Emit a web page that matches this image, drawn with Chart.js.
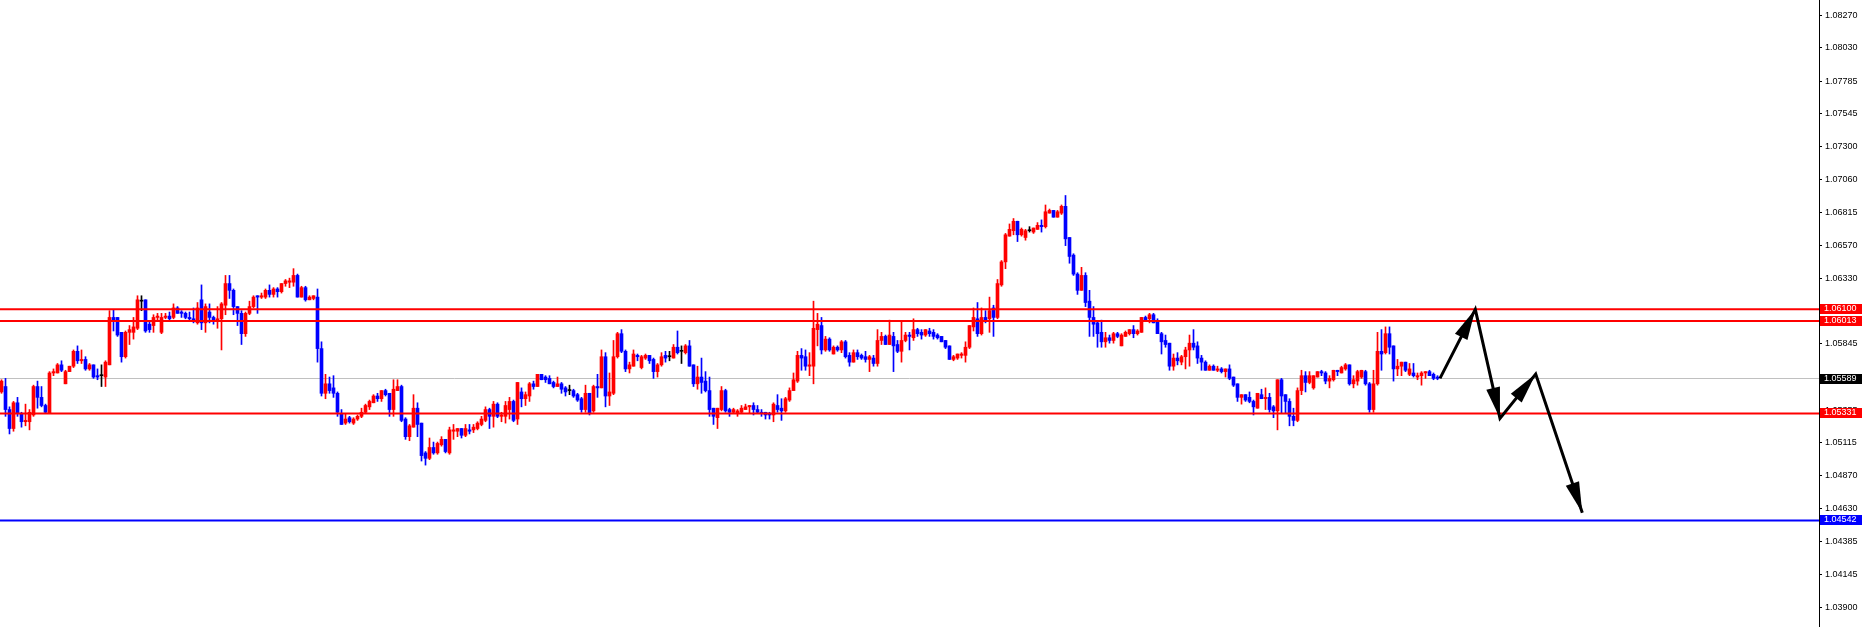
<!DOCTYPE html>
<html>
<head>
<meta charset="utf-8">
<title>EURUSD</title>
<script src="https://cdn.jsdelivr.net/npm/chart.js@4.4.1/dist/chart.umd.min.js"></script>
<style>
  html, body { margin: 0; padding: 0; background: #fff; overflow: hidden; }
</style>
</head>
<body>
<canvas id="chart" width="1864" height="627"></canvas>
<script>
const PRICE_MIN = 1.03755
const PRICE_MAX = 1.08383
const X_MIN = -0.375
const X_MAX = 454.375

const TICK_VALUES = [1.0827, 1.0803, 1.07785, 1.07545, 1.073, 1.0706, 1.06815, 1.0657, 1.0633, 1.06085,
  1.05845, 1.056, 1.05355, 1.05115, 1.0487, 1.0463, 1.04385, 1.04145, 1.039]

// open, high, low, close - one row per bar
const OHLC = [
  [1.0549,1.0558,1.0548,1.0557],[1.0553,1.0559,1.0531,1.0536],[1.0536,1.0538,1.0518,1.0522],[1.0522,1.0542,1.0520,1.0541],[1.0541,1.0545,1.0531,1.0533],
  [1.0533,1.0534,1.0523,1.0527],[1.0527,1.0540,1.0524,1.0528],[1.0527,1.0536,1.0521,1.0534],[1.0532,1.0554,1.0531,1.0553],[1.0553,1.0557,1.0537,1.0545],
  [1.0545,1.0553,1.0538,1.0539],[1.0539,1.0540,1.0533,1.0534],[1.0533,1.0564,1.0533,1.0563],[1.0563,1.0566,1.0561,1.0564],[1.0563,1.0570,1.0563,1.0569],
  [1.0569,1.0572,1.0564,1.0565],[1.0555,1.0565,1.0555,1.0564],[1.0564,1.0568,1.0564,1.0568],[1.0568,1.0580,1.0567,1.0579],[1.0579,1.0583,1.0570,1.0572],
  [1.0572,1.0580,1.0570,1.0573],[1.0573,1.0575,1.0565,1.0566],[1.0566,1.0570,1.0565,1.0569],[1.0569,1.0569,1.0559,1.0560],[1.0561,1.0566,1.0558,1.0560],
  [1.0561,1.0569,1.0553,1.0561],[1.0560,1.0572,1.0553,1.0571],[1.0569,1.0609,1.0569,1.0604],[1.0604,1.0610,1.0594,1.0601],[1.0604,1.0604,1.0590,1.0591],
  [1.0593,1.0593,1.0571,1.0575],[1.0575,1.0594,1.0574,1.0593],[1.0593,1.0598,1.0584,1.0595],[1.0593,1.0604,1.0588,1.0597],[1.0596,1.0620,1.0595,1.0617],
  [1.0616,1.0620,1.0609,1.0616],[1.0617,1.0617,1.0593,1.0594],[1.0599,1.0601,1.0593,1.0595],[1.0598,1.0606,1.0593,1.0604],[1.0604,1.0607,1.0602,1.0605],
  [1.0593,1.0607,1.0592,1.0604],[1.0604,1.0607,1.0603,1.0605],[1.0605,1.0608,1.0602,1.0603],[1.0604,1.0614,1.0603,1.0611],[1.0611,1.0612,1.0607,1.0607],
  [1.0608,1.0609,1.0604,1.0607],[1.0607,1.0608,1.0603,1.0604],[1.0604,1.0608,1.0602,1.0603],[1.0603,1.0611,1.0600,1.0601],[1.0600,1.0615,1.0599,1.0611],
  [1.0617,1.0628,1.0595,1.0600],[1.0600,1.0614,1.0593,1.0612],[1.0608,1.0614,1.0600,1.0604],[1.0604,1.0605,1.0599,1.0601],[1.0601,1.0612,1.0596,1.0603],
  [1.0603,1.0615,1.0580,1.0614],[1.0613,1.0635,1.0606,1.0629],[1.0629,1.0635,1.0618,1.0624],[1.0624,1.0625,1.0606,1.0612],[1.0612,1.0612,1.0598,1.0607],
  [1.0607,1.0609,1.0584,1.0592],[1.0592,1.0608,1.0590,1.0607],[1.0607,1.0616,1.0606,1.0612],[1.0612,1.0620,1.0611,1.0619],[1.0620,1.0620,1.0607,1.0619],
  [1.0619,1.0622,1.0618,1.0620],[1.0619,1.0625,1.0618,1.0624],[1.0624,1.0628,1.0619,1.0621],[1.0621,1.0626,1.0619,1.0625],[1.0625,1.0626,1.0619,1.0623],
  [1.0623,1.0629,1.0622,1.0629],[1.0629,1.0632,1.0627,1.0631],[1.0630,1.0633,1.0626,1.0631],[1.0630,1.0640,1.0627,1.0635],[1.0635,1.0636,1.0619,1.0619],
  [1.0619,1.0627,1.0619,1.0626],[1.0626,1.0627,1.0616,1.0617],[1.0617,1.0620,1.0617,1.0619],[1.0618,1.0620,1.0617,1.0620],[1.0619,1.0625,1.0571,1.0581],
  [1.0581,1.0586,1.0546,1.0548],[1.0548,1.0562,1.0544,1.0555],[1.0555,1.0560,1.0548,1.0550],[1.0552,1.0561,1.0545,1.0548],[1.0548,1.0549,1.0531,1.0534],
  [1.0533,1.0536,1.0525,1.0525],[1.0526,1.0533,1.0525,1.0529],[1.0530,1.0531,1.0526,1.0527],[1.0526,1.0530,1.0525,1.0529],[1.0529,1.0532,1.0528,1.0531],
  [1.0531,1.0537,1.0530,1.0534],[1.0534,1.0540,1.0533,1.0539],[1.0538,1.0543,1.0536,1.0542],[1.0541,1.0547,1.0541,1.0546],[1.0546,1.0548,1.0542,1.0544],
  [1.0544,1.0550,1.0542,1.0550],[1.0550,1.0551,1.0546,1.0547],[1.0548,1.0548,1.0531,1.0536],[1.0536,1.0558,1.0531,1.0551],[1.0550,1.0558,1.0550,1.0553],
  [1.0553,1.0554,1.0527,1.0528],[1.0529,1.0530,1.0514,1.0516],[1.0516,1.0525,1.0513,1.0524],[1.0523,1.0547,1.0523,1.0537],[1.0537,1.0541,1.0516,1.0525],
  [1.0526,1.0526,1.0498,1.0502],[1.0504,1.0505,1.0495,1.0500],[1.0500,1.0515,1.0499,1.0508],[1.0508,1.0512,1.0503,1.0504],[1.0504,1.0512,1.0503,1.0511],
  [1.0510,1.0516,1.0509,1.0514],[1.0514,1.0514,1.0504,1.0505],[1.0504,1.0523,1.0503,1.0521],[1.0520,1.0525,1.0514,1.0521],[1.0520,1.0522,1.0516,1.0522],
  [1.0522,1.0522,1.0515,1.0517],[1.0517,1.0525,1.0516,1.0522],[1.0521,1.0525,1.0518,1.0520],[1.0521,1.0525,1.0519,1.0523],[1.0522,1.0527,1.0521,1.0526],
  [1.0525,1.0531,1.0524,1.0529],[1.0528,1.0538,1.0527,1.0536],[1.0536,1.0537,1.0522,1.0531],[1.0531,1.0542,1.0523,1.0540],[1.0540,1.0541,1.0530,1.0531],
  [1.0531,1.0534,1.0527,1.0532],[1.0531,1.0542,1.0526,1.0539],[1.0536,1.0545,1.0529,1.0542],[1.0542,1.0543,1.0527,1.0528],[1.0529,1.0556,1.0525,1.0556],
  [1.0549,1.0552,1.0538,1.0544],[1.0544,1.0549,1.0539,1.0547],[1.0546,1.0556,1.0542,1.0555],[1.0555,1.0557,1.0551,1.0553],[1.0553,1.0562,1.0553,1.0562],
  [1.0562,1.0562,1.0558,1.0558],[1.0560,1.0561,1.0556,1.0558],[1.0559,1.0561,1.0555,1.0555],[1.0556,1.0557,1.0552,1.0553],[1.0553,1.0560,1.0553,1.0555],
  [1.0555,1.0556,1.0548,1.0551],[1.0552,1.0553,1.0546,1.0549],[1.0550,1.0554,1.0547,1.0550],[1.0550,1.0551,1.0545,1.0546],[1.0547,1.0548,1.0542,1.0543],
  [1.0544,1.0545,1.0534,1.0536],[1.0536,1.0554,1.0534,1.0548],[1.0548,1.0548,1.0532,1.0533],[1.0535,1.0554,1.0534,1.0553],[1.0553,1.0562,1.0545,1.0552],
  [1.0552,1.0580,1.0552,1.0575],[1.0575,1.0578,1.0538,1.0546],[1.0546,1.0563,1.0539,1.0549],[1.0548,1.0587,1.0547,1.0575],[1.0575,1.0593,1.0574,1.0592],
  [1.0592,1.0595,1.0578,1.0579],[1.0579,1.0580,1.0564,1.0566],[1.0566,1.0571,1.0563,1.0569],[1.0568,1.0580,1.0568,1.0577],[1.0576,1.0577,1.0572,1.0575],
  [1.0567,1.0576,1.0566,1.0575],[1.0574,1.0577,1.0573,1.0576],[1.0576,1.0576,1.0570,1.0572],[1.0573,1.0574,1.0559,1.0564],[1.0564,1.0570,1.0560,1.0569],
  [1.0569,1.0578,1.0568,1.0575],[1.0576,1.0579,1.0571,1.0574],[1.0575,1.0579,1.0572,1.0575],[1.0574,1.0584,1.0574,1.0582],[1.0582,1.0594,1.0577,1.0578],
  [1.0579,1.0583,1.0570,1.0579],[1.0578,1.0584,1.0577,1.0583],[1.0583,1.0587,1.0568,1.0568],[1.0569,1.0569,1.0553,1.0555],[1.0555,1.0568,1.0551,1.0560],
  [1.0560,1.0574,1.0548,1.0556],[1.0557,1.0564,1.0549,1.0550],[1.0550,1.0560,1.0531,1.0536],[1.0537,1.0537,1.0525,1.0531],[1.0530,1.0537,1.0522,1.0537],
  [1.0536,1.0553,1.0535,1.0550],[1.0550,1.0551,1.0534,1.0535],[1.0536,1.0537,1.0531,1.0534],[1.0534,1.0537,1.0533,1.0536],[1.0533,1.0536,1.0531,1.0535],
  [1.0534,1.0539,1.0533,1.0537],[1.0536,1.0540,1.0536,1.0538],[1.0538,1.0539,1.0533,1.0539],[1.0539,1.0541,1.0532,1.0536],[1.0536,1.0539,1.0533,1.0534],
  [1.0534,1.0536,1.0531,1.0533],[1.0534,1.0534,1.0529,1.0532],[1.0533,1.0534,1.0529,1.0532],[1.0532,1.0541,1.0527,1.0540],[1.0539,1.0547,1.0534,1.0536],
  [1.0537,1.0544,1.0528,1.0535],[1.0535,1.0545,1.0534,1.0544],[1.0543,1.0552,1.0542,1.0550],[1.0550,1.0563,1.0550,1.0558],[1.0557,1.0579,1.0556,1.0576],
  [1.0576,1.0581,1.0565,1.0574],[1.0575,1.0580,1.0565,1.0568],[1.0568,1.0578,1.0561,1.0569],[1.0568,1.0616,1.0555,1.0596],[1.0595,1.0607,1.0583,1.0599],
  [1.0598,1.0604,1.0577,1.0580],[1.0580,1.0590,1.0579,1.0588],[1.0588,1.0589,1.0579,1.0580],[1.0577,1.0583,1.0577,1.0582],[1.0582,1.0583,1.0579,1.0580],
  [1.0580,1.0587,1.0578,1.0586],[1.0586,1.0587,1.0574,1.0575],[1.0576,1.0578,1.0568,1.0571],[1.0571,1.0580,1.0571,1.0578],[1.0578,1.0580,1.0573,1.0575],
  [1.0576,1.0577,1.0573,1.0574],[1.0575,1.0579,1.0571,1.0573],[1.0573,1.0576,1.0564,1.0575],[1.0574,1.0576,1.0568,1.0570],[1.0570,1.0595,1.0568,1.0587],
  [1.0587,1.0593,1.0584,1.0590],[1.0590,1.0591,1.0584,1.0584],[1.0584,1.0602,1.0584,1.0591],[1.0590,1.0593,1.0564,1.0583],[1.0584,1.0587,1.0578,1.0579],
  [1.0579,1.0601,1.0571,1.0587],[1.0587,1.0593,1.0586,1.0591],[1.0591,1.0593,1.0580,1.0590],[1.0589,1.0603,1.0587,1.0595],[1.0595,1.0596,1.0590,1.0592],
  [1.0593,1.0595,1.0588,1.0591],[1.0591,1.0595,1.0590,1.0595],[1.0594,1.0596,1.0590,1.0592],[1.0593,1.0595,1.0588,1.0590],[1.0591,1.0592,1.0588,1.0589],
  [1.0590,1.0590,1.0586,1.0586],[1.0587,1.0587,1.0581,1.0582],[1.0583,1.0583,1.0573,1.0573],[1.0573,1.0576,1.0572,1.0575],[1.0574,1.0577,1.0573,1.0577],
  [1.0576,1.0578,1.0574,1.0577],[1.0576,1.0586,1.0571,1.0582],[1.0582,1.0598,1.0581,1.0598],[1.0597,1.0611,1.0594,1.0604],[1.0603,1.0615,1.0590,1.0592],
  [1.0592,1.0611,1.0591,1.0604],[1.0604,1.0609,1.0600,1.0601],[1.0603,1.0619,1.0593,1.0609],[1.0611,1.0613,1.0590,1.0604],[1.0604,1.0632,1.0603,1.0629],
  [1.0628,1.0646,1.0627,1.0645],[1.0645,1.0666,1.0640,1.0665],[1.0664,1.0673,1.0664,1.0669],[1.0668,1.0677,1.0665,1.0675],[1.0675,1.0675,1.0660,1.0665],
  [1.0665,1.0670,1.0664,1.0669],[1.0663,1.0669,1.0661,1.0668],[1.0668,1.0671,1.0667,1.0668],[1.0667,1.0670,1.0666,1.0670],[1.0669,1.0674,1.0669,1.0672],
  [1.0672,1.0676,1.0667,1.0671],[1.0671,1.0687,1.0670,1.0682],[1.0681,1.0684,1.0681,1.0683],[1.0683,1.0683,1.0678,1.0678],[1.0678,1.0683,1.0678,1.0682],
  [1.0681,1.0687,1.0680,1.0686],[1.0686,1.0694,1.0657,1.0662],[1.0663,1.0663,1.0644,1.0649],[1.0650,1.0651,1.0635,1.0636],[1.0636,1.0637,1.0621,1.0624],
  [1.0624,1.0641,1.0624,1.0635],[1.0635,1.0637,1.0612,1.0615],[1.0616,1.0624,1.0590,1.0604],[1.0604,1.0612,1.0590,1.0599],[1.0600,1.0601,1.0582,1.0592],
  [1.0593,1.0602,1.0582,1.0586],[1.0586,1.0593,1.0582,1.0589],[1.0589,1.0591,1.0585,1.0587],[1.0587,1.0593,1.0585,1.0592],[1.0592,1.0593,1.0589,1.0590],
  [1.0583,1.0592,1.0583,1.0591],[1.0590,1.0594,1.0590,1.0593],[1.0592,1.0595,1.0591,1.0595],[1.0595,1.0598,1.0589,1.0592],[1.0592,1.0595,1.0591,1.0594],
  [1.0593,1.0604,1.0593,1.0604],[1.0604,1.0605,1.0601,1.0602],[1.0603,1.0607,1.0600,1.0606],[1.0606,1.0607,1.0600,1.0600],[1.0601,1.0603,1.0592,1.0592],
  [1.0592,1.0593,1.0577,1.0586],[1.0587,1.0591,1.0582,1.0584],[1.0585,1.0585,1.0565,1.0568],[1.0568,1.0577,1.0565,1.0574],[1.0574,1.0578,1.0569,1.0572],
  [1.0571,1.0576,1.0569,1.0575],[1.0575,1.0582,1.0566,1.0580],[1.0580,1.0591,1.0568,1.0585],[1.0585,1.0595,1.0580,1.0582],[1.0583,1.0586,1.0570,1.0574],
  [1.0574,1.0576,1.0565,1.0571],[1.0571,1.0572,1.0565,1.0565],[1.0565,1.0569,1.0565,1.0568],[1.0568,1.0569,1.0565,1.0565],[1.0565,1.0568,1.0564,1.0566],
  [1.0566,1.0567,1.0563,1.0564],[1.0564,1.0566,1.0560,1.0566],[1.0566,1.0569,1.0558,1.0559],[1.0560,1.0560,1.0553,1.0554],[1.0555,1.0555,1.0542,1.0545],
  [1.0545,1.0547,1.0540,1.0547],[1.0547,1.0547,1.0542,1.0543],[1.0545,1.0549,1.0541,1.0542],[1.0542,1.0543,1.0532,1.0538],[1.0537,1.0548,1.0537,1.0548],
  [1.0547,1.0551,1.0544,1.0544],[1.0544,1.0552,1.0536,1.0545],[1.0545,1.0548,1.0534,1.0536],[1.0538,1.0539,1.0530,1.0535],[1.0535,1.0558,1.0521,1.0558],
  [1.0558,1.0559,1.0533,1.0546],[1.0547,1.0547,1.0533,1.0542],[1.0542,1.0544,1.0524,1.0531],[1.0531,1.0537,1.0524,1.0528],[1.0528,1.0552,1.0527,1.0550],
  [1.0550,1.0565,1.0547,1.0561],[1.0561,1.0564,1.0549,1.0556],[1.0556,1.0564,1.0555,1.0561],[1.0552,1.0561,1.0551,1.0561],[1.0560,1.0564,1.0560,1.0564],
  [1.0564,1.0565,1.0561,1.0563],[1.0563,1.0564,1.0555,1.0557],[1.0557,1.0561,1.0552,1.0559],[1.0558,1.0565,1.0557,1.0565],[1.0565,1.0565,1.0561,1.0564],
  [1.0563,1.0568,1.0563,1.0567],[1.0566,1.0570,1.0565,1.0569],[1.0569,1.0569,1.0554,1.0555],[1.0555,1.0561,1.0552,1.0558],[1.0557,1.0565,1.0554,1.0564],
  [1.0560,1.0565,1.0559,1.0565],[1.0564,1.0565,1.0554,1.0555],[1.0555,1.0556,1.0534,1.0536],[1.0536,1.0565,1.0534,1.0555],[1.0555,1.0593,1.0554,1.0579],
  [1.0579,1.0595,1.0565,1.0577],[1.0578,1.0597,1.0577,1.0592],[1.0592,1.0597,1.0577,1.0582],[1.0583,1.0583,1.0557,1.0566],[1.0566,1.0573,1.0561,1.0568],
  [1.0568,1.0571,1.0561,1.0571],[1.0571,1.0571,1.0564,1.0565],[1.0562,1.0570,1.0561,1.0566],[1.0563,1.0570,1.0560,1.0561],[1.0560,1.0563,1.0558,1.0561],
  [1.0561,1.0564,1.0554,1.0563],[1.0563,1.0564,1.0559,1.0564],[1.0564,1.0565,1.0561,1.0561],[1.0562,1.0563,1.0558,1.0559],[1.0560,1.0561,1.0558,1.0559],
]

const LEVEL_VALUES = [1.061, 1.06013, 1.05331, 1.04542]
const LEVEL_LABELS = ['1.06100', '1.06013', '1.05331', '1.04542']
const LEVEL_COLORS = ['#ff0000', '#ff0000', '#ff0000', '#0000ff']
const BID = 1.05589
const BID_LABEL = '1.05589'

// hand drawn forecast path (bar index, price)
const ARROW_X = [359.62, 368.45, 374.62, 383.55, 395.2]
const ARROW_Y = [1.0559, 1.0610, 1.05295, 1.05622, 1.04598]

const UP = '#ff0000'
const DOWN = '#0000ff'
const DOJI = '#000000'
const FONT = { family: '"Liberation Sans", Arial, sans-serif', size: 9 }

const colors = OHLC.map((r) => (r[3] > r[0] ? UP : r[3] < r[0] ? DOWN : DOJI))
const bodies = OHLC.map((r, i) => ({ x: i, y: [r[0], r[3]] }))
const wicks = OHLC.map((r, i) => ({ x: i, y: [r[2], r[1]] }))
const hline = (v) => [{ x: X_MIN, y: v }, { x: X_MAX, y: v }]

const priceBoxes = {
  id: 'priceBoxes',
  afterDraw(chart) {
    const { ctx, chartArea, scales } = chart
    const y = scales.y
    const draw = (v, txt, bg) => {
      const py = Math.round(y.getPixelForValue(v))
      ctx.fillStyle = bg
      ctx.fillRect(chartArea.right + 1, py - 5, 42, 10)
      ctx.fillStyle = '#fff'
      ctx.font = `${FONT.size}px ${FONT.family}`
      ctx.textBaseline = 'middle'
      ctx.textAlign = 'left'
      ctx.fillText(txt, chartArea.right + 5, py)
    }
    ctx.save()
    LEVEL_VALUES.forEach((v, i) => draw(v, LEVEL_LABELS[i], LEVEL_COLORS[i]))
    draw(BID, BID_LABEL, '#000')
    ctx.restore()
  },
}

const arrowHeads = {
  id: 'arrowHeads',
  afterDatasetsDraw(chart) {
    const { ctx, scales } = chart
    const len = 31
    const half = 7
    ctx.save()
    ctx.fillStyle = '#000'
    for (let k = 1; k < ARROW_X.length; k++) {
      const x0 = scales.x.getPixelForValue(ARROW_X[k - 1])
      const y0 = scales.y.getPixelForValue(ARROW_Y[k - 1])
      const x1 = scales.x.getPixelForValue(ARROW_X[k])
      const y1 = scales.y.getPixelForValue(ARROW_Y[k])
      const a = Math.atan2(y1 - y0, x1 - x0)
      const bx = x1 - len * Math.cos(a)
      const by = y1 - len * Math.sin(a)
      ctx.beginPath()
      ctx.moveTo(x1, y1)
      ctx.lineTo(bx + half * Math.sin(a), by - half * Math.cos(a))
      ctx.lineTo(bx - half * Math.sin(a), by + half * Math.cos(a))
      ctx.closePath()
      ctx.fill()
    }
    ctx.restore()
  },
}

const levelSets = LEVEL_VALUES.map((v, i) => ({
  type: 'line',
  data: hline(v),
  borderColor: LEVEL_COLORS[i],
  borderWidth: 2,
  pointRadius: 0,
  order: 2,
}))

new Chart(document.getElementById('chart'), {
  type: 'bar',
  data: {
    datasets: [
      { type: 'line', data: hline(BID), borderColor: '#c0c0c0', borderWidth: 1, pointRadius: 0, order: 6 },
      { data: wicks, backgroundColor: colors, barThickness: 1, grouped: false, order: 5 },
      { data: bodies, backgroundColor: colors, barThickness: 3, minBarLength: 1, grouped: false, order: 4 },
      ...levelSets,
      {
        type: 'line',
        data: ARROW_X.map((x, i) => ({ x, y: ARROW_Y[i] })),
        borderColor: '#000',
        borderWidth: 3,
        pointRadius: 0,
        tension: 0,
        order: 1,
      },
    ],
  },
  options: {
    responsive: false,
    animation: false,
    devicePixelRatio: 1,
    events: [],
    layout: { padding: 0 },
    plugins: { legend: { display: false }, tooltip: { enabled: false } },
    scales: {
      x: { type: 'linear', display: false, offset: false, min: X_MIN, max: X_MAX },
      y: {
        type: 'linear',
        position: 'right',
        min: PRICE_MIN,
        max: PRICE_MAX,
        afterBuildTicks: (s) => { s.ticks = TICK_VALUES.map((value) => ({ value })) },
        afterFit: (s) => { s.width = 45; s.paddingTop = 0; s.paddingBottom = 0 },
        ticks: { color: '#000', font: FONT, padding: 3, autoSkip: false, callback: (v) => Number(v).toFixed(5) },
        grid: { drawOnChartArea: false, drawTicks: true, tickLength: 3, color: '#000' },
        border: { display: true, color: '#000', width: 1 },
      },
    },
  },
  plugins: [priceBoxes, arrowHeads],
})
</script>
</body>
</html>
